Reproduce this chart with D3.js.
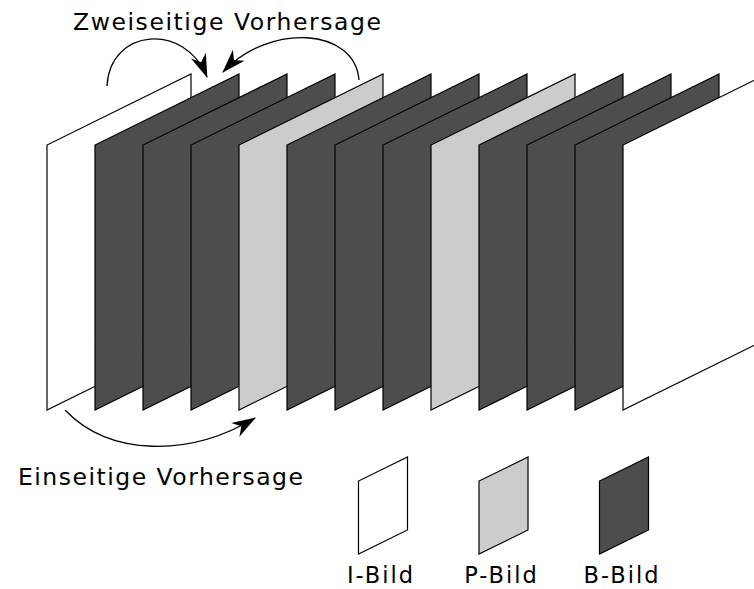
<!DOCTYPE html>
<html>
<head>
<meta charset="utf-8">
<script src="https://cdn.jsdelivr.net/npm/d3@7"></script>
<style>
  html, body { margin: 0; padding: 0; background: #fff; }
  svg { display: block; }
  text { font-family: "DejaVu Sans", sans-serif; fill: #000; }
</style>
</head>
<body>
<svg id="chart" width="754" height="589"></svg>
<script>
// ---- data ----
const frameTypes = ["I","B","B","B","P","B","B","B","P","B","B","B","I"];
const legendTypes = ["I","P","B"];
const legendLabels = ["I-Bild","P-Bild","B-Bild"];
const topLabel = "Zweiseitige Vorhersage";
const bottomLabel = "Einseitige Vorhersage";

const fills = { I: "#ffffff", P: "#cccccc", B: "#4d4d4d" };

const svg = d3.select("#chart");

// frame positions via scale
const x = d3.scaleLinear().domain([0, frameTypes.length - 1]).range([47, 623]);
const yBottom = 410, frameH = 265, depthX = 144, depthY = -71;

function para(x0, yb, h, dx, dy) {
  return `M${x0},${yb} L${x0},${yb - h} L${x0 + dx},${yb - h + dy} L${x0 + dx},${yb + dy} Z`;
}

svg.append("g").selectAll("path")
  .data(frameTypes)
  .join("path")
  .attr("d", (d, i) => para(x(i), yBottom, frameH, depthX, depthY))
  .attr("fill", d => fills[d])
  .attr("stroke", "#000")
  .attr("stroke-width", 1.2)
  .attr("stroke-linejoin", "miter");

// arrow marker
svg.append("defs").append("marker")
  .attr("id", "stealth")
  .attr("markerUnits", "userSpaceOnUse")
  .attr("viewBox", "-26 -10 30 20")
  .attr("markerWidth", 30).attr("markerHeight", 20)
  .attr("refX", 0).attr("refY", 0)
  .attr("orient", "auto")
  .append("path")
  .attr("d", "M1,0 L-23,-8 L-16,0 L-23,8 Z")
  .attr("fill", "#000");

const arrows = [
  "M107,86 C110,28 185,22 207,77",
  "M359,80 C355,28 270,22 223,72",
  "M65,410 C110,457 190,457 255,418"
];
svg.append("g").selectAll("path")
  .data(arrows)
  .join("path")
  .attr("d", d => d)
  .attr("fill", "none")
  .attr("stroke", "#000")
  .attr("stroke-width", 1.3)
  .attr("marker-end", "url(#stealth)");

// labels
svg.append("text").attr("x", 73).attr("y", 30)
  .attr("font-size", 23.5)
  .attr("textLength", 308).attr("lengthAdjust", "spacing")
  .text(topLabel);
svg.append("text").attr("x", 18).attr("y", 485)
  .attr("font-size", 23.5)
  .attr("textLength", 285).attr("lengthAdjust", "spacing")
  .text(bottomLabel);

// legend
const lx = d3.scaleLinear().domain([0, 2]).range([358.5, 599.5]);
const lg = svg.append("g");
lg.selectAll("path")
  .data(legendTypes)
  .join("path")
  .attr("d", (d, i) => para(lx(i), 554, 73, 49, -24))
  .attr("fill", d => fills[d])
  .attr("stroke", "#000")
  .attr("stroke-width", 1.2);
lg.selectAll("text")
  .data(legendLabels)
  .join("text")
  .attr("x", (d, i) => lx(i) + 24.5 - 2)
  .attr("y", 583)
  .attr("font-size", 22.5)
  .attr("text-anchor", "middle")
  .attr("letter-spacing", 2)
  .text(d => d);
</script>
</body>
</html>
